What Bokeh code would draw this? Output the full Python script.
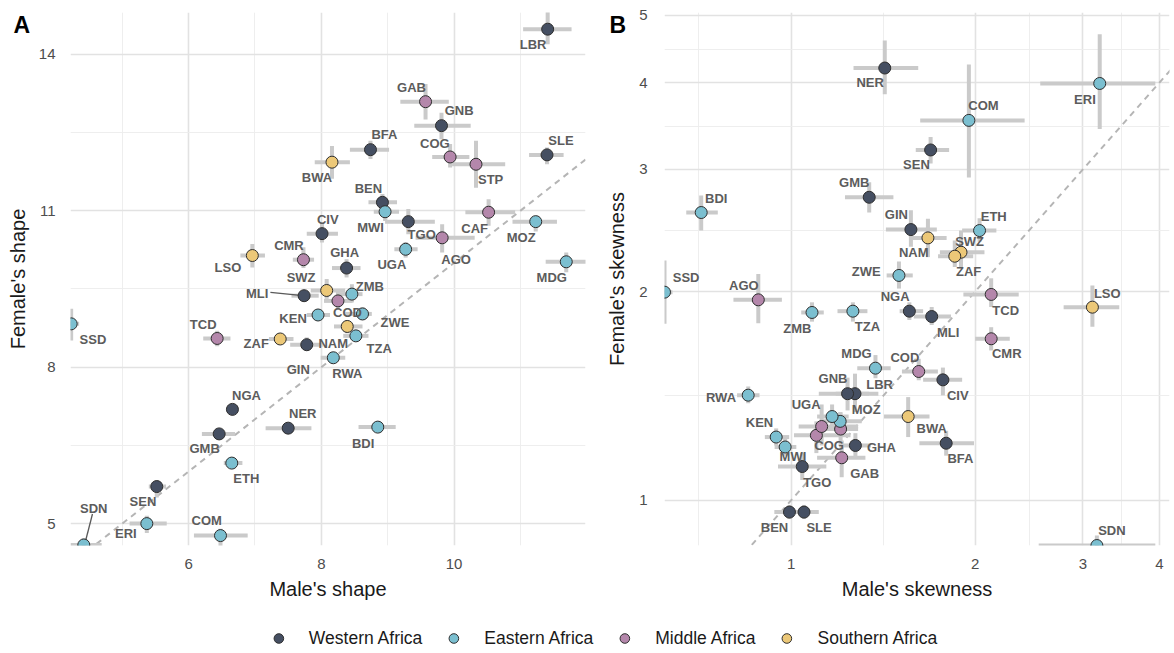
import numpy as np
from bokeh.plotting import figure
from bokeh.models import (ColumnDataSource, FixedTicker, Range1d, Title, Legend,
                          LegendItem, BasicTickFormatter)
from bokeh.layouts import column, row
from bokeh.embed import file_html
from bokeh.resources import INLINE
from bokeh.core.properties import value

# ---------------- data ----------------
countries = ["LBR", "GAB", "GNB", "BFA", "BWA", "COG", "STP", "SLE", "BEN", "MWI", "TGO",
             "CAF", "MOZ", "AGO", "CIV", "UGA", "MDG", "LSO", "CMR", "GHA", "SWZ", "ZMB",
             "MLI", "COD", "ZWE", "KEN", "SSD", "TCD", "ZAF", "NAM", "TZA", "GIN", "RWA",
             "NGA", "NER", "GMB", "BDI", "ETH", "SEN", "ERI", "COM", "SDN"]
regions = ["Western Africa", "Middle Africa", "Western Africa", "Western Africa", "Southern Africa",
           "Middle Africa", "Middle Africa", "Western Africa", "Western Africa", "Eastern Africa",
           "Western Africa", "Middle Africa", "Eastern Africa", "Middle Africa", "Western Africa",
           "Eastern Africa", "Eastern Africa", "Southern Africa", "Middle Africa", "Western Africa",
           "Southern Africa", "Eastern Africa", "Western Africa", "Middle Africa", "Eastern Africa",
           "Eastern Africa", "Eastern Africa", "Middle Africa", "Southern Africa", "Southern Africa",
           "Eastern Africa", "Western Africa", "Eastern Africa", "Western Africa", "Western Africa",
           "Western Africa", "Eastern Africa", "Eastern Africa", "Western Africa", "Eastern Africa",
           "Eastern Africa", "Eastern Africa"]
region_names = ["Western Africa", "Eastern Africa", "Middle Africa", "Southern Africa"]

# Panel A: shape
shape_m = [11.41, 9.57, 9.81, 8.74, 8.16, 9.94, 10.33, 11.40, 8.92, 8.96, 9.31, 10.52, 11.23, 9.82,
           8.01, 9.27, 11.69, 6.96, 7.73, 8.38, 8.08, 8.46, 7.74, 8.25, 8.62, 7.95, 4.23, 6.43,
           7.38, 8.39, 8.52, 7.78, 8.18, 6.66, 7.50, 6.46, 8.85, 6.65, 5.52, 5.37, 6.48, 4.42]
shape_m_lo = [11.04, 9.19, 9.40, 8.43, 7.90, 9.67, 9.97, 11.13, 8.71, 8.79, 8.96, 10.17, 10.88, 9.42,
              7.78, 9.10, 11.38, 6.78, 7.57, 8.16, 7.84, 8.27, 7.55, 8.04, 8.36, 7.78, 4.10, 6.22,
              7.21, 8.19, 8.33, 7.53, 7.99, 6.57, 7.16, 6.20, 8.56, 6.53, 5.40, 5.11, 6.08, 4.22]
shape_m_hi = [11.77, 9.92, 10.25, 9.02, 8.43, 10.23, 10.77, 11.65, 9.14, 9.17, 9.71, 10.92, 11.55, 10.31,
              8.25, 9.45, 12.00, 7.15, 7.89, 8.59, 8.36, 8.62, 7.96, 8.47, 8.76, 8.13, 4.35, 6.63,
              7.58, 8.62, 8.71, 8.02, 8.36, 6.75, 7.85, 6.70, 9.12, 6.81, 5.66, 5.67, 6.89, 4.69]
shape_f = [14.48, 13.09, 12.63, 12.17, 11.93, 12.03, 11.89, 12.07, 11.16, 10.98, 10.79, 10.97, 10.79, 10.48,
           10.56, 10.26, 10.02, 10.14, 10.06, 9.90, 9.47, 9.40, 9.37, 9.27, 9.02, 9.00, 8.83, 8.55,
           8.54, 8.78, 8.60, 8.43, 8.18, 7.19, 6.83, 6.72, 6.85, 6.16, 5.71, 5.00, 4.77, 4.59]
shape_f_lo = [14.19, 12.75, 12.37, 11.99, 11.61, 11.83, 11.44, 11.89, 11.00, 10.80, 10.55, 10.71, 10.60, 10.20,
              10.39, 10.10, 9.82, 9.91, 9.90, 9.72, 9.31, 9.24, 9.30, 9.10, 8.90, 8.90, 8.51, 8.40,
              8.45, 8.65, 8.50, 8.32, 8.08, 7.10, 6.76, 6.65, 6.78, 6.08, 5.50, 4.82, 4.50, 4.45]
shape_f_hi = [14.85, 13.43, 12.88, 12.34, 12.24, 12.28, 12.34, 12.21, 11.32, 11.10, 11.03, 11.22, 10.90, 10.74,
              10.77, 10.40, 10.20, 10.36, 10.30, 10.07, 9.69, 9.59, 9.45, 9.45, 9.15, 9.10, 9.12, 8.70,
              8.63, 8.90, 8.70, 8.57, 8.28, 7.28, 6.90, 6.79, 6.92, 6.24, 5.83, 5.15, 4.90, 4.72]

# Panel B: skewness
skew_m = [1.272, 1.21, 1.237, 1.793, 1.554, 1.10, 1.122, 1.050, 0.994, 0.978, 1.043, 1.205, 1.203, 0.884,
          1.771, 1.167, 1.374, 3.109, 2.124, 1.274, 1.896, 1.082, 1.698, 1.617, 1.501, 0.9455, 0.621, 2.124,
          1.852, 1.674, 1.262, 1.570, 0.851, 1.561, 1.423, 1.342, 0.713, 2.033, 1.691, 3.196, 1.953, 3.162]
skew_m_lo = [1.183, 1.103, 1.11, 1.621, 1.419, 1.011, 1.029, 1.0, 0.939, 0.94, 0.952, 1.11, 1.126, 0.805,
             1.644, 1.103, 1.283, 2.79, 2.0, 1.20, 1.751, 1.039, 1.587, 1.518, 1.433, 0.906, 0.60, 1.913,
             1.739, 1.577, 1.191, 1.429, 0.816, 1.505, 1.265, 1.225, 0.674, 1.904, 1.599, 2.555, 1.626, 2.54]
skew_m_hi = [1.389, 1.323, 1.342, 1.991, 1.684, 1.251, 1.287, 1.11, 1.058, 1.02, 1.142, 1.287, 1.305, 0.966,
             1.904, 1.242, 1.455, 3.44, 2.278, 1.351, 2.071, 1.131, 1.826, 1.738, 1.581, 0.993, 0.64, 2.356,
             1.985, 1.796, 1.333, 1.731, 0.888, 1.644, 1.614, 1.47, 0.759, 2.166, 1.813, 3.94, 2.409, 3.94]
skew_f = [1.425, 1.152, 1.425, 1.209, 1.321, 1.241, 1.278, 0.962, 0.962, 1.194, 1.119, 1.267, 1.30, 1.946,
          1.492, 1.321, 1.551, 1.899, 1.710, 1.20, 2.279, 1.866, 1.841, 1.534, 2.110, 1.234, 1.996, 1.981,
          2.249, 2.39, 1.874, 2.457, 1.418, 1.874, 4.20, 2.735, 2.60, 2.449, 3.20, 3.99, 3.53, 0.861]
skew_f_lo = [1.341, 1.08, 1.348, 1.16, 1.234, 1.17, 1.20, 0.94, 0.94, 1.16, 1.07, 1.20, 1.27, 1.80,
             1.417, 1.275, 1.50, 1.78, 1.645, 1.15, 2.17, 1.81, 1.79, 1.49, 2.02, 1.20, 1.797, 1.90,
             2.17, 2.242, 1.81, 2.32, 1.38, 1.82, 3.85, 2.60, 2.45, 2.36, 3.06, 3.43, 2.92, 0.83]
skew_f_hi = [1.523, 1.22, 1.503, 1.26, 1.409, 1.30, 1.375, 0.985, 0.985, 1.23, 1.17, 1.34, 1.34, 2.12,
             1.554, 1.375, 1.62, 2.04, 1.777, 1.25, 2.45, 1.93, 1.90, 1.60, 2.21, 1.27, 2.217, 2.09,
             2.37, 2.546, 1.93, 2.62, 1.46, 1.93, 4.60, 2.875, 2.75, 2.55, 3.34, 4.70, 4.25, 0.89]

# axis limits and ticks
shape_x_lim = [4.22, 11.98]
shape_y_lim = [4.58, 14.80]
shape_x_ticks = [6, 8, 10]
shape_y_ticks = [5, 8, 11, 14]
skew_x_lim = [0.621, 4.156]
skew_y_lim = [0.861, 5.05]
skew_x_ticks = [1, 2, 3, 4]
skew_y_ticks = [1, 2, 3, 4, 5]

# ---------------- styling ----------------
colors = {"Western Africa": "#454f62", "Eastern Africa": "#7bbfd0",
          "Middle Africa": "#b487ab", "Southern Africa": "#ecc878"}
FONT = "Liberation Sans"

# label offsets in screen pixels (dx right, dy down)
offsets_a = {
    "LBR": (-14.6, 15), "GAB": (-14, -13.7), "GNB": (17.6, -15), "BFA": (14, -14.7), "COG": (-15.3, -13.3),
    "SLE": (14, -14), "BWA": (-15, 15.3), "STP": (14.6, 15.7), "BEN": (-14, -14), "CIV": (5.7, -14.3),
    "MWI": (-14.5, 15.7), "TGO": (13.4, 12.7), "CAF": (-14, 16), "MOZ": (-14.5, 15.7), "CMR": (-14.5, -14),
    "GHA": (-2, -15.6), "UGA": (-13.8, 15), "AGO": (14, 21.7), "LSO": (-24.4, 11.7), "MDG": (-14.5, 15.7),
    "SWZ": (-25.6, -12.7), "ZMB": (18, -7.3), "MLI": (-47, -2.3), "KEN": (-25, 3.4), "COD": (9.5, 11.7),
    "ZWE": (32.5, 9), "SSD": (21.8, 16), "TCD": (-14, -14.4), "ZAF": (-24, 4.4), "NAM": (-14, 17),
    "TZA": (23.3, 12.7), "GIN": (-8.5, 24.3), "RWA": (14, 16), "NGA": (14, -14), "NER": (14.6, -14.4),
    "BDI": (-14.6, 16), "GMB": (-14.5, 15), "ETH": (14.5, 15.6), "SEN": (-13.8, 15), "SDN": (10, -36.6),
    "ERI": (-21, 10), "COM": (-13.8, -14.6)}
offsets_b = {
    "NER": (-14.6, 14.4), "ERI": (-14.8, 15.6), "COM": (14.6, -14.7), "SEN": (-14.2, 15), "GMB": (-15, -14.7),
    "BDI": (15, -13.7), "GIN": (-14.5, -14.7), "ETH": (14.2, -14), "SWZ": (8.6, -11), "NAM": (-14.2, 15),
    "ZAF": (13.8, 15), "ZWE": (-32.7, -4.3), "SSD": (21.6, -15), "AGO": (-14.5, -14.3), "NGA": (-14.2, -14.7),
    "LSO": (14.9, -14), "TCD": (14.5, 16), "ZMB": (-14.6, 15.7), "TZA": (14.6, 15.3), "MLI": (16.4, 15.7),
    "CMR": (15.6, 15), "MDG": (-19, -15), "COD": (-13.8, -14.3), "GNB": (-14.5, -15), "LBR": (24.6, -9.3),
    "CIV": (14.9, 15.7), "RWA": (-27.2, 2.6), "UGA": (-26, -12), "MOZ": (26, -12), "BWA": (23.5, 11.7),
    "KEN": (-16.7, -14.4), "COG": (12.7, 10), "GHA": (26, 1.7), "BFA": (14.2, 15), "MWI": (7.8, 10),
    "GAB": (23, 15.4), "TGO": (15, 15.7), "BEN": (-15, 15.6), "SLE": (15, 15.6), "SDN": (15, -15)}
# leader lines (screen px from point): start, end
leaders_a = {"MLI": ((-33.7, -3.3), (-1.2, 0)), "SDN": ((8.7, -31), (1, -1))}

TOP, FH, BOTTOM = 12, 533, 58


def make_panel(tag, xs, xlo, xhi, ys, ylo, yhi, xlim, ylim, xticks, yticks, xminor, yminor,
               log, xlabel, ylabel, offsets, leaders, width, bl, br, ytick_standoff, ylab_standoff,
               tag_offset):
    height = TOP + FH + BOTTOM
    fw = width - bl - br
    kw = dict(x_axis_type="log", y_axis_type="log") if log else {}
    p = figure(width=width, height=height, output_backend="svg", toolbar_location=None,
               x_range=Range1d(*xlim), y_range=Range1d(*ylim),
               min_border_left=bl, min_border_right=br, min_border_top=TOP, min_border_bottom=BOTTOM,
               **kw)
    p.outline_line_color = None
    p.background_fill_color = "white"
    p.xaxis.ticker = FixedTicker(ticks=xticks, minor_ticks=xminor)
    p.yaxis.ticker = FixedTicker(ticks=yticks, minor_ticks=yminor)
    p.xaxis.formatter = BasicTickFormatter()
    p.yaxis.formatter = BasicTickFormatter()
    for ax in (p.xaxis, p.yaxis):
        ax.axis_line_color = None
        ax.major_tick_line_color = None
        ax.minor_tick_line_color = None
        ax.major_label_text_font = FONT
        ax.major_label_text_font_size = "15px"
        ax.major_label_text_color = "#4d4d4d"
        ax.axis_label_text_font = FONT
        ax.axis_label_text_font_size = "20px"
        ax.axis_label_text_font_style = "normal"
        ax.axis_label_text_color = "#1a1a1a"
    p.xaxis.axis_label = xlabel
    p.yaxis.axis_label = ylabel
    p.xaxis.major_label_standoff = 7
    p.yaxis.major_label_standoff = ytick_standoff
    p.xaxis.axis_label_standoff = 6
    p.yaxis.axis_label_standoff = ylab_standoff
    for g in (p.xgrid, p.ygrid):
        g.grid_line_color = "#e2e2e2"
        g.grid_line_width = 1.6
        g.minor_grid_line_color = "#ececec"
        g.minor_grid_line_width = 0.9

    # identity line
    lo = min(xlim[0], ylim[0])
    hi = max(xlim[1], ylim[1])
    p.line([lo, hi], [lo, hi], line_color="#b5b5b5", line_width=2, line_dash="6 5")

    src = ColumnDataSource(dict(
        country=countries, region=regions, x=xs, xlo=xlo, xhi=xhi, y=ys, ylo=ylo, yhi=yhi,
        color=[colors[r] for r in regions]))
    p.segment(x0="xlo", x1="xhi", y0="y", y1="y", source=src, line_color="#cacaca", line_width=4)
    p.segment(x0="x", x1="x", y0="ylo", y1="yhi", source=src, line_color="#cacaca", line_width=4)

    # leader lines
    if leaders:
        sx = fw / (xlim[1] - xlim[0])
        sy = FH / (ylim[1] - ylim[0])
        lx0, lx1, ly0, ly1 = [], [], [], []
        for c, ((ax_, ay_), (bx_, by_)) in leaders.items():
            i = countries.index(c)
            lx0.append(xs[i] + ax_ / sx); ly0.append(ys[i] - ay_ / sy)
            lx1.append(xs[i] + bx_ / sx); ly1.append(ys[i] - by_ / sy)
        p.segment(lx0, ly0, lx1, ly1, line_color="#5a5a5a", line_width=1.3)

    p.scatter(x="x", y="y", source=src, size=12, fill_color="color", line_color="#2e2e2e",
              line_width=1)

    lab = dict(x=[], y=[], text=[], dx=[], dy=[])
    for i, c in enumerate(countries):
        if c in offsets:
            lab["x"].append(xs[i]); lab["y"].append(ys[i]); lab["text"].append(c)
            lab["dx"].append(offsets[c][0]); lab["dy"].append(offsets[c][1])
    p.text(x="x", y="y", text="text", x_offset="dx", y_offset="dy", source=ColumnDataSource(lab),
           text_font=value(FONT), text_font_style="bold", text_font_size="13px",
           text_color="#5c5c5c", text_align="center", text_baseline="middle")

    # panel tag: a title whose negative standoff keeps the top border at its minimum
    p.add_layout(Title(text=tag, align="left", vertical_align="bottom", offset=tag_offset,
                       standoff=-50, text_font=FONT, text_font_style="bold",
                       text_font_size="23px", text_color="black"), "above")
    return p


pA = make_panel("A", shape_m, shape_m_lo, shape_m_hi, shape_f, shape_f_lo, shape_f_hi,
                shape_x_lim, shape_y_lim, shape_x_ticks, shape_y_ticks,
                [5, 7, 9, 11], [6.5, 9.5, 12.5], False,
                "Male's shape", "Female's shape", offsets_a, leaders_a, 590, 70, 5, 9, 7, -57)
pB = make_panel("B", skew_m, skew_m_lo, skew_m_hi, skew_f, skew_f_lo, skew_f_hi,
                skew_x_lim, skew_y_lim, skew_x_ticks, skew_y_ticks,
                [np.sqrt(0.5), np.sqrt(2), np.sqrt(6), np.sqrt(12)],
                [np.sqrt(2), np.sqrt(6), np.sqrt(12), np.sqrt(20)], True,
                "Male's skewness", "Female's skewness", offsets_b, None, 584, 74, 5, 11, 8, -55)

# legend strip
leg = figure(width=1174, height=50, output_backend="svg", toolbar_location=None,
             x_range=Range1d(0, 1), y_range=Range1d(0, 1),
             min_border_left=29, min_border_right=0, min_border_top=20, min_border_bottom=0)
leg.axis.visible = False
leg.grid.visible = False
leg.outline_line_color = None
items = []
for r in region_names:
    rr = leg.scatter(x=[0.5], y=[-5], size=11, fill_color=colors[r], line_color="#2e2e2e", line_width=1)
    items.append(LegendItem(label=r, renderers=[rr]))
legend = Legend(items=items, orientation="horizontal", location="center",
                border_line_color=None, background_fill_alpha=0, padding=0, margin=0,
                label_text_font=FONT, label_text_font_size="17.5px", label_text_color="#1a1a1a",
                glyph_width=24, glyph_height=24, label_standoff=19, spacing=19)
leg.add_layout(legend, "center")

layout = column(row(pA, pB), leg)
open("out.html", "w").write(file_html(layout, INLINE))
